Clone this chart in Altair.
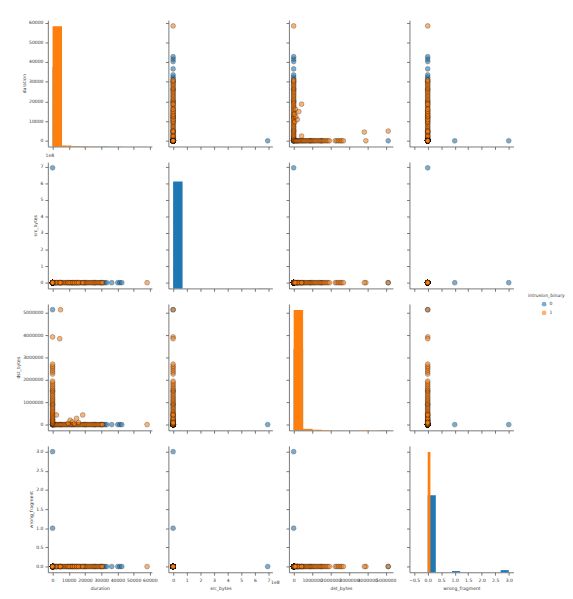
import altair as alt
import pandas as pd

VARS = ["duration", "src_bytes", "dst_bytes", "wrong_fragment"]
HUE_LEVELS = ["0", "1"]
HUE_COLORS = ["#1f77b4", "#ff7f0e"]

# intrusion_binary = 0 (blue): (duration, src_bytes, dst_bytes, wrong_fragment)
blue_points = [
    (0, 693375640, 0, 0), (0, 1032, 0, 3), (0, 520, 0, 1), (0, 300, 5134218, 0),
    (0, 230, 0, 0), (1000, 1500, 0, 0), (5000, 320, 0, 0), (12000, 410, 0, 0),
    (20000, 260, 0, 0), (26000, 1020, 0, 0), (30000, 540, 0, 0), (31200, 800, 0, 0),
    (32300, 1200, 0, 0), (33400, 950, 0, 0), (36500, 1500, 0, 0), (40200, 1200, 0, 0),
    (41500, 800, 0, 0), (42700, 950, 0, 0), (0, 240, 200000, 0), (0, 300, 900000, 0),
    (0, 350, 1500000, 0),
]

# intrusion_binary = 1 (orange), sessions lying on the duration axis
orange_duration_axis = [
    (0, 0, 0, 0), (300, 105, 0, 0), (700, 0, 0, 0), (1100, 147, 0, 0), (1500, 0, 0, 0),
    (2000, 1032, 0, 0), (2500, 0, 0, 0), (3000, 520, 0, 0), (3600, 0, 0, 0), (4200, 28, 0, 0),
    (4800, 0, 0, 0), (5400, 1480, 0, 0), (6000, 0, 0, 0), (6700, 54, 0, 0), (7300, 0, 0, 0),
    (8000, 0, 0, 0), (8600, 310, 0, 0), (9300, 0, 0, 0), (10000, 0, 0, 0), (10600, 2190, 0, 0),
    (11300, 0, 0, 0), (12000, 0, 0, 0), (12600, 146, 0, 0), (13300, 0, 0, 0), (14000, 0, 0, 0),
    (14700, 1032, 0, 0), (15400, 0, 0, 0), (16100, 0, 0, 0), (16800, 520, 0, 0), (17500, 0, 0, 0),
    (18200, 0, 0, 0), (18900, 105, 0, 0), (19600, 0, 0, 0), (20300, 0, 0, 0), (21000, 283, 0, 0),
    (21700, 0, 0, 0), (22400, 0, 0, 0), (23100, 1511, 0, 0), (23800, 0, 0, 0), (24500, 0, 0, 0),
    (25200, 334, 0, 0), (25900, 0, 0, 0), (26600, 0, 0, 0), (27300, 745, 0, 0), (28000, 0, 0, 0),
    (28700, 0, 0, 0), (29400, 2940, 0, 0), (30100, 0, 0, 0), (30800, 0, 0, 0), (58300, 0, 0, 0),
]

# intrusion_binary = 1 (orange), sessions lying on the dst_bytes axis
orange_dst_axis = [
    (0, 105, 40000, 0), (0, 0, 80000, 0), (0, 232, 120000, 0), (0, 0, 160000, 0),
    (0, 0, 200000, 0), (0, 146, 250000, 0), (0, 0, 300000, 0), (0, 0, 350000, 0),
    (0, 520, 400000, 0), (0, 0, 450000, 0), (0, 0, 500000, 0), (0, 311, 550000, 0),
    (0, 0, 600000, 0), (0, 0, 660000, 0), (0, 1032, 720000, 0), (0, 0, 780000, 0),
    (0, 0, 840000, 0), (0, 283, 900000, 0), (0, 0, 960000, 0), (0, 0, 1020000, 0),
    (0, 54, 1080000, 0), (0, 0, 1140000, 0), (0, 0, 1200000, 0), (0, 745, 1270000, 0),
    (0, 0, 1340000, 0), (0, 0, 1410000, 0), (0, 334, 1480000, 0), (0, 0, 1550000, 0),
    (0, 0, 1620000, 0), (0, 1511, 1700000, 0), (0, 0, 1780000, 0), (0, 0, 1860000, 0),
    (0, 220, 1940000, 0), (0, 0, 2260000, 0), (0, 0, 2350000, 0), (0, 410, 2440000, 0),
    (0, 0, 2530000, 0), (0, 0, 2610000, 0), (0, 180, 2700000, 0), (0, 0, 3920000, 0),
]

# intrusion_binary = 1 (orange), sessions off both axes
orange_mixed = [
    (2400, 1032, 430000, 0), (9600, 0, 60000, 0), (10800, 520, 200000, 0),
    (12300, 0, 120000, 0), (13500, 146, 40000, 0), (14800, 0, 280000, 0),
    (16000, 0, 90000, 0), (18600, 2190, 430000, 0), (4400, 0, 3840000, 0),
    (4900, 0, 5134218, 0),
]

# diagonal histograms: (variable, intrusion_binary, bin start, bin end, count)
hist_bins = [
    ("duration", "0", 0, 4270, 650), ("duration", "0", 4270, 8540, 5),
    ("duration", "0", 8540, 12810, 3), ("duration", "0", 12810, 17080, 2),
    ("duration", "0", 17080, 21350, 2), ("duration", "0", 21350, 25620, 1),
    ("duration", "0", 25620, 29890, 1), ("duration", "0", 29890, 34160, 2),
    ("duration", "0", 34160, 38430, 1), ("duration", "0", 38430, 42700, 1),
    ("duration", "1", 0, 5830, 985), ("duration", "1", 5830, 11660, 8),
    ("duration", "1", 11660, 17490, 3), ("duration", "1", 17490, 23320, 2),
    ("duration", "1", 23320, 29150, 1), ("duration", "1", 52470, 58300, 1),
    ("src_bytes", "0", 0, 69337564, 667), ("src_bytes", "0", 624038076, 693375640, 1),
    ("src_bytes", "1", 0, 5454, 750), ("src_bytes", "1", 5454, 10908, 110),
    ("src_bytes", "1", 10908, 16362, 50), ("src_bytes", "1", 16362, 21816, 30),
    ("src_bytes", "1", 21816, 27270, 20), ("src_bytes", "1", 27270, 32724, 15),
    ("src_bytes", "1", 32724, 38178, 10), ("src_bytes", "1", 38178, 43632, 7),
    ("src_bytes", "1", 43632, 49086, 5), ("src_bytes", "1", 49086, 54540, 3),
    ("dst_bytes", "0", 0, 513422, 660), ("dst_bytes", "0", 513422, 1026844, 5),
    ("dst_bytes", "0", 1026844, 1540266, 2), ("dst_bytes", "0", 4620796, 5134218, 1),
    ("dst_bytes", "1", 0, 513422, 975), ("dst_bytes", "1", 513422, 1026844, 12),
    ("dst_bytes", "1", 1026844, 1540266, 5), ("dst_bytes", "1", 1540266, 2053688, 3),
    ("dst_bytes", "1", 3593953, 4107375, 3), ("dst_bytes", "1", 4620796, 5134218, 2),
    ("wrong_fragment", "0", 0.0, 0.3, 640), ("wrong_fragment", "0", 0.9, 1.2, 10),
    ("wrong_fragment", "0", 2.7, 3.0, 18),
    ("wrong_fragment", "1", 0.0, 0.1, 1000),
]

offset_text = ["1e8"]

# ---------------------------------------------------------------- tables
rows = [p + ("0",) for p in blue_points]
rows += [p + ("1",) for p in orange_duration_axis + orange_dst_axis + orange_mixed]
points = pd.DataFrame(rows, columns=VARS + ["intrusion_binary"])
hist = pd.DataFrame(hist_bins, columns=["var", "intrusion_binary", "bin_lo", "bin_hi", "n"])
offset_df = pd.DataFrame({"t": offset_text})

# ---------------------------------------------------------------- layout / style
W, H = 107, 130
FONT = "DejaVu Sans"
FS = 4.7
DOMAIN_X = {
    "duration": [-2916, 61245],
    "src_bytes": [-34668782, 728044422],
    "dst_bytes": [-256711, 5390929],
    "wrong_fragment": [-0.675, 3.175],
}
DOMAIN_Y = {
    "duration": [-2916, 61245],
    "src_bytes": [-34668782, 728044422],
    "dst_bytes": [-256711, 5390929],
    "wrong_fragment": [-0.15, 3.15],
}
TICKS_X = {
    "duration": [0, 10000, 20000, 30000, 40000, 50000, 60000],
    "src_bytes": [0, 1e8, 2e8, 3e8, 4e8, 5e8, 6e8, 7e8],
    "dst_bytes": [0, 1e6, 2e6, 3e6, 4e6, 5e6],
    "wrong_fragment": [-0.5, 0, 0.5, 1.0, 1.5, 2.0, 2.5, 3.0],
}
TICKS_Y = dict(TICKS_X, wrong_fragment=[0, 0.5, 1.0, 1.5, 2.0, 2.5, 3.0])
FORMATS = {"duration": "d", "dst_bytes": "d", "wrong_fragment": ".1f"}

color_scale = alt.Scale(domain=HUE_LEVELS, range=HUE_COLORS)
LEGEND = alt.Legend(
    title="intrusion_binary", orient="none", legendX=494, legendY=281,
    symbolType="circle", symbolSize=24, symbolOpacity=0.6, symbolStrokeWidth=0,
    symbolOffset=14, labelOffset=3, rowPadding=3, titlePadding=4,
    titleFontSize=FS, labelFontSize=FS, titleFontWeight="normal",
    titleFont=FONT, labelFont=FONT, titleColor="#333", labelColor="#333",
)


def make_axis(var, ticks, show, orient):
    kw = dict(values=ticks, orient=orient, grid=False)
    if var == "src_bytes":
        kw["labelExpr"] = "format(datum.value / 100000000, 'd')"
    else:
        kw["format"] = FORMATS[var]
    if not show:
        kw["labels"] = False
    return alt.Axis(**kw)


def x_enc(var, show, field=None):
    return alt.X(
        f"{field or var}:Q",
        scale=alt.Scale(domain=DOMAIN_X[var], nice=False, zero=False),
        axis=make_axis(var, TICKS_X[var], show, "bottom"),
        title=var if show else None,
    )


def y_enc(var, show, field=None):
    return alt.Y(
        f"{field or var}:Q",
        scale=alt.Scale(domain=DOMAIN_Y[var], nice=False, zero=False),
        axis=make_axis(var, TICKS_Y[var], show, "left"),
        title=var if show else None,
    )


def offset_layer(x, y):
    return alt.Chart(offset_df).mark_text(
        fontSize=FS, font=FONT, color="#333", align="center", baseline="middle"
    ).encode(text="t:N", x=alt.value(x), y=alt.value(y))


def scatter(i, j):
    xv, yv = VARS[j], VARS[i]
    return alt.Chart(points).mark_circle(
        size=24, opacity=0.6, stroke="black", strokeWidth=0.5
    ).encode(
        x=x_enc(xv, i == 3),
        y=y_enc(yv, j == 0),
        color=alt.Color("intrusion_binary:N", scale=color_scale, legend=LEGEND),
    )


def diag(k):
    # histogram on a twin count axis (as matplotlib's twinx): count range
    # [0, 1.05 * max count] is mapped onto the row variable's axis range
    var = VARS[k]
    lo, hi = DOMAIN_Y[var]
    sub = hist[hist["var"] == var]
    ymax = float(sub["n"].max()) * 1.05
    return alt.Chart(sub).transform_calculate(
        bar_top=f"{lo} + datum.n / {ymax} * ({hi} - ({lo}))",
        bar_base=f"{lo}",
    ).mark_rect().encode(
        x=x_enc(var, k == 3, field="bin_lo"),
        x2="bin_hi:Q",
        y=y_enc(var, k == 0, field="bar_top"),
        y2="bar_base:Q",
        color=alt.Color("intrusion_binary:N", scale=color_scale, legend=LEGEND),
        order=alt.Order("intrusion_binary:N"),
    )


panels = []
for i in range(4):
    for j in range(4):
        p = diag(i) if i == j else scatter(i, j)
        if i == 1 and j == 0:
            p = alt.layer(p, offset_layer(2, -6))
        if i == 3 and j == 1:
            p = alt.layer(p, offset_layer(110, 141))
        panels.append(p.properties(width=W, height=H))

chart = alt.concat(
    *panels, columns=4, spacing={"row": 16, "column": 17}, bounds="flush"
).properties(
    padding={"left": 7, "right": 0, "top": 3, "bottom": 0}
).configure_view(
    strokeWidth=0
).configure_axis(
    domainColor="#555", domainWidth=0.8, tickColor="#555", tickWidth=0.8, tickSize=3,
    labelFontSize=FS, labelColor="#333", labelPadding=2, labelFont=FONT,
    labelOverlap=False, labelFlush=False, labelBound=False,
    titleFontSize=FS, titleColor="#333", titleFontWeight="normal", titleFont=FONT,
    titlePadding=2.5,
).configure_axisX(
    titlePadding=4,
)

chart.save("out.html", embed_options={"renderer": "svg", "actions": False})
